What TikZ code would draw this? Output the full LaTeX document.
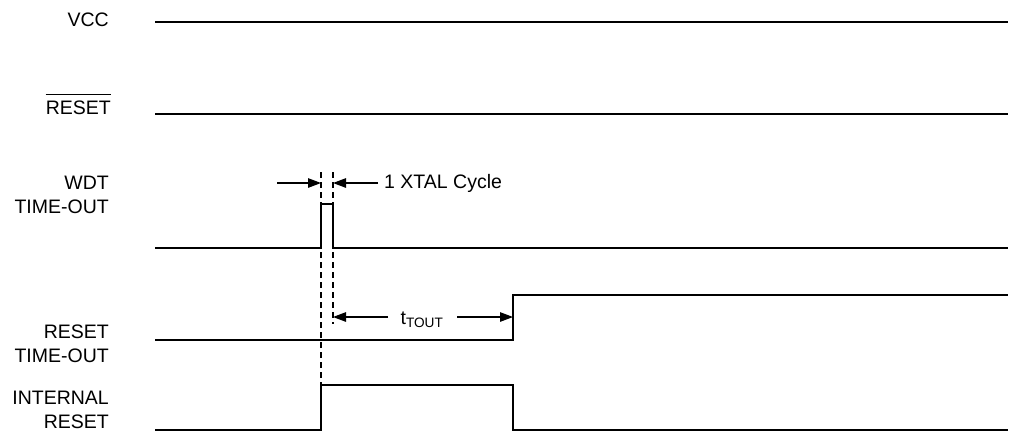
\documentclass[tikz,border=0pt]{standalone}
\usepackage{fontspec}
\setmainfont{Liberation Sans}
\usetikzlibrary{arrows.meta,calc}
\begin{document}
\begin{tikzpicture}[x=1pt,y=-1pt,
  sig/.style={line width=1.8pt},
  dsh/.style={line width=1.2pt,dash pattern=on 6pt off 4pt},
  dimarrow/.style={line width=1.2pt,-{Triangle[length=13pt,width=9.5pt]}},
  lbl/.style={anchor=east,align=right,font=\fontsize{19.5}{23.5}\selectfont,inner sep=0pt},
  txt/.style={font=\fontsize{19.5}{22}\selectfont,inner sep=0pt}]
\useasboundingbox (0,0) rectangle (1016,432);
% labels
\node[lbl] (lvcc) at (109,20) {VCC};
\node[lbl] (lrst) at (111,108) {RESET};
\draw[line width=1.1pt] ($(lrst.north west)+(0,-6)$) -- ($(lrst.north east)+(0,-6)$);
\node[lbl] (lwdt) at (109,195) {WDT\\TIME-OUT};
\node[lbl] (lrto) at (109,344) {RESET\\TIME-OUT};
\node[lbl] (lint) at (109,410) {INTERNAL\\RESET};
% waveforms
\draw[sig] (155,22) -- (1008,22);
\draw[sig] (155,114) -- (1008,114);
\draw[sig] (155,248) -- (321,248) -- (321,204) -- (333,204) -- (333,248) -- (1008,248);
\draw[sig] (155,340) -- (513,340) -- (513,295) -- (1008,295);
\draw[sig] (155,430) -- (321,430) -- (321,385) -- (513,385) -- (513,430) -- (1008,430);
% dashed guides
\coordinate (d1t) at (321,172);
\coordinate (d1b) at (321,385);
\coordinate (d2t) at (333,172);
\coordinate (d2b) at (333,324);
\draw[dsh] (d1t) -- (d1b);
\draw[dsh] (d2t) -- (d2b);
% XTAL cycle arrows
\coordinate (a1s) at (277,183);
\coordinate (a1e) at (321,183);
\coordinate (a2s) at (378,183);
\coordinate (a2e) at (333,183);
\draw[dimarrow] (a1s) -- (a1e);
\draw[dimarrow] (a2s) -- (a2e);
\node[txt,anchor=west] (xtal) at (384,183) {1 XTAL Cycle};
% tTOUT arrows
\coordinate (b1s) at (388,317);
\coordinate (b1e) at (333,317);
\coordinate (b2s) at (457,317);
\coordinate (b2e) at (513,317);
\draw[dimarrow] (b1s) -- (b1e);
\draw[dimarrow] (b2s) -- (b2e);
\node[txt] (tout) at (422,320) {t\textsubscript{TOUT}};
\end{tikzpicture}
\end{document}
